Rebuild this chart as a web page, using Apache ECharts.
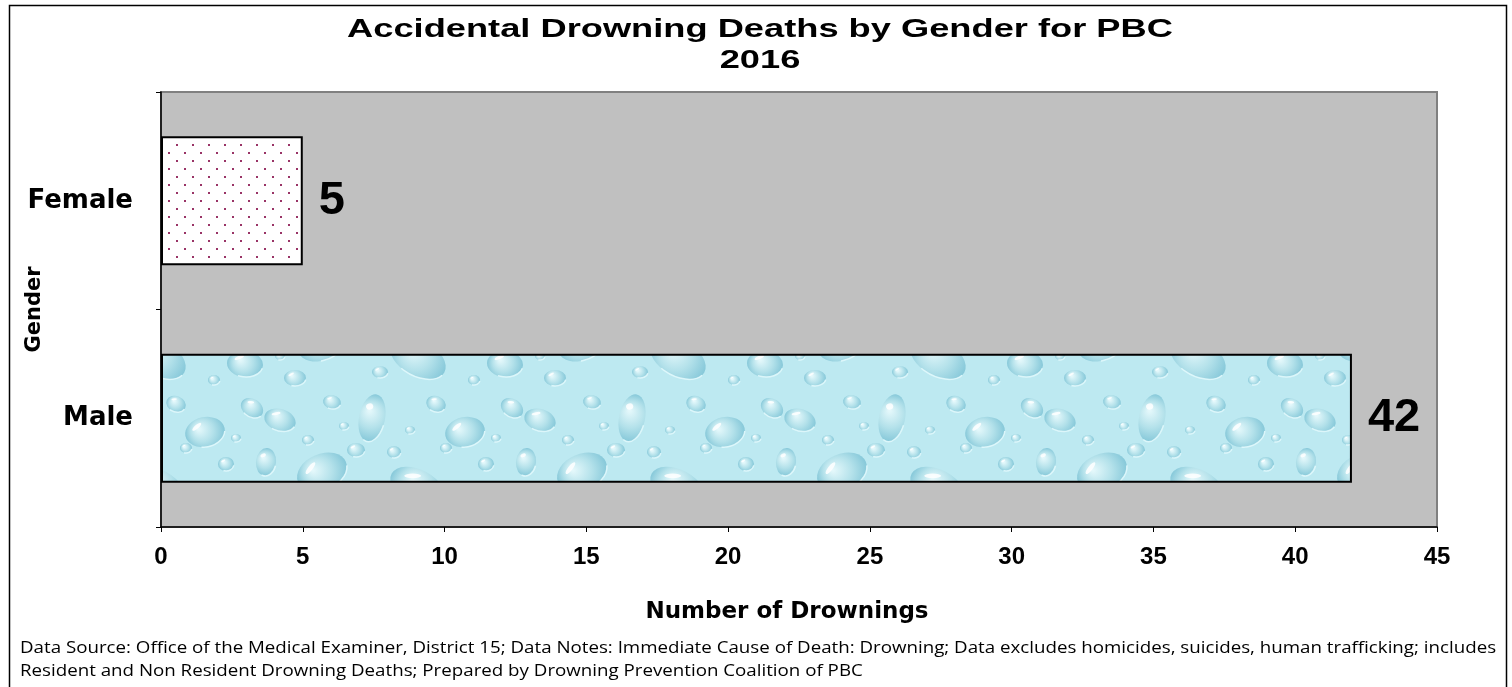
<!DOCTYPE html>
<html>
<head>
<meta charset="utf-8">
<script src="https://cdn.jsdelivr.net/npm/echarts@6/dist/echarts.min.js"></script>
<style>
html,body{margin:0;padding:0;background:#fff;}
#chart{width:1512px;height:687px;}
</style>
</head>
<body>
<div id="chart"></div>
<script>
// ---- data ----
const categories = ['Female', 'Male'];
const values = [5, 42];
const xTicks = {min: 0, max: 45, interval: 5};
const titleLines = ['Accidental Drowning Deaths by Gender for PBC', '2016'];
const footnoteLines = [
  'Data Source: Office of the Medical Examiner, District 15; Data Notes: Immediate Cause of Death: Drowning; Data excludes homicides, suicides, human trafficking; includes',
  'Resident and Non Resident Drowning Deaths; Prepared by Drowning Prevention Coalition of PBC'
];

// ---- patterns ----
function dotPattern() {
  const c = document.createElement('canvas');
  c.width = 16; c.height = 16;
  const g = c.getContext('2d');
  g.fillStyle = '#ffffff';
  g.fillRect(0, 0, 16, 16);
  g.fillStyle = '#993366';
  g.fillRect(0, 0, 2, 2);
  g.fillRect(8, 8, 2, 2);
  return c;
}
function waterPattern() {
  const w = 260, h = 130;
  const c = document.createElement('canvas');
  c.width = w; c.height = h;
  const g = c.getContext('2d');
  g.fillStyle = '#bde9f1';
  g.fillRect(0, 0, w, h);
  // fixed decorative drops [x, y, rx, ry, angle]
  const drops = [
    [20, 30, 16, 11, 0.3], [62, 82, 26, 18, -0.4], [112, 28, 13, 24, 0.2],
    [158, 98, 30, 18, 0.5], [205, 42, 20, 15, -0.2], [245, 104, 18, 13, 0.1],
    [35, 118, 11, 8, 0], [96, 60, 9, 7, 0], [176, 14, 10, 8, 0.4],
    [226, 74, 8, 7, 0], [134, 62, 7, 6, 0], [72, 12, 9, 7, 0.2],
    [252, 18, 12, 9, 0.6], [6, 72, 10, 14, 0.1], [186, 58, 6, 5, 0],
    [48, 50, 6, 5, 0], [120, 112, 8, 6, 0], [214, 120, 6, 5, 0],
    [84, 36, 5, 4, 0], [150, 40, 5, 4, 0], [236, 48, 5, 4, 0], [20, 96, 5, 4, 0]
  ];
  function drawDrop(x, y, d) {
    g.save();
    g.translate(x, y);
    g.rotate(d[4]);
    const r = Math.max(d[2], d[3]);
    const rg = g.createRadialGradient(-d[2] * 0.3, -d[3] * 0.3, 1, 0, 0, r);
    rg.addColorStop(0, '#e4f8fb');
    rg.addColorStop(0.55, '#b3e1ea');
    rg.addColorStop(1, '#86c8d9');
    g.fillStyle = rg;
    g.beginPath();
    g.ellipse(0, 0, d[2], d[3], 0, 0, Math.PI * 2);
    g.fill();
    g.strokeStyle = 'rgba(225,248,252,0.9)';
    g.lineWidth = 1.5;
    g.beginPath();
    g.ellipse(0, 0, d[2], d[3], 0, 0.2, 1.9);
    g.stroke();
    g.fillStyle = 'rgba(255,255,255,0.85)';
    g.beginPath();
    g.ellipse(-d[2] * 0.35, -d[3] * 0.45, d[2] * 0.28, d[3] * 0.13, -0.5, 0, Math.PI * 2);
    g.fill();
    g.restore();
  }
  drops.forEach(function (d) {
    for (let ox = -1; ox <= 1; ox++) {
      for (let oy = -1; oy <= 1; oy++) {
        drawDrop(d[0] + ox * w, d[1] + oy * h, d);
      }
    }
  });
  return c;
}

const patterns = [dotPattern(), waterPattern()];

const chart = echarts.init(document.getElementById('chart'));
const sansBold = '"DejaVu Sans", Arial, sans-serif';
const arial = 'Arial, "Liberation Sans", sans-serif';

chart.setOption({
  animation: false,
  backgroundColor: '#ffffff',
  grid: {
    left: 161, top: 92, width: 1276, height: 435,
    show: true, backgroundColor: '#C0C0C0', borderColor: '#808080', borderWidth: 2,
    containLabel: false,
    outerBoundsMode: 'none'
  },
  xAxis: {
    type: 'value',
    min: xTicks.min, max: xTicks.max, interval: xTicks.interval,
    name: 'Number of Drownings',
    nameLocation: 'middle',
    nameGap: 74,
    nameMoveOverlap: false,
    nameTextStyle: {fontFamily: sansBold, fontSize: 23, fontWeight: 'bold', color: '#000', padding: [0, 24, 0, 0]},
    axisLine: {show: true, lineStyle: {color: '#000', width: 1.5}},
    axisTick: {show: true, length: 5, lineStyle: {color: '#000'}},
    axisLabel: {fontFamily: arial, fontSize: 24, fontWeight: 'bold', color: '#000', margin: 18},
    splitLine: {show: false}
  },
  yAxis: {
    type: 'category',
    data: categories,
    inverse: true,
    name: 'Gender',
    nameLocation: 'middle',
    nameRotate: 90,
    nameGap: 116,
    nameMoveOverlap: false,
    nameTextStyle: {fontFamily: sansBold, fontSize: 21, fontWeight: 'bold', color: '#000'},
    axisLine: {show: true, lineStyle: {color: '#000', width: 1.5}},
    axisTick: {show: true, length: 5, lineStyle: {color: '#000'}},
    axisLabel: {fontFamily: sansBold, fontSize: 26, fontWeight: 'bold', color: '#000', margin: 28}
  },
  series: [{
    type: 'bar',
    barWidth: 129,
    data: values.map(function (v, i) {
      return {
        value: v,
        itemStyle: {color: {image: patterns[i], repeat: 'repeat'}}
      };
    }),
    itemStyle: {borderColor: '#000', borderWidth: 2},
    label: {
      show: true, position: 'right', distance: 16,
      fontFamily: arial, fontSize: 47, fontWeight: 'bold', color: '#000'
    }
  }],
  graphic: [
    {type: 'rect', left: 7, top: 3, shape: {width: 1497, height: 720},
      style: {fill: 'none', stroke: '#000', lineWidth: 1.5}, silent: true},
    {type: 'text', x: 760, y: 18,
      style: {text: titleLines[0], font: 'bold 25px ' + arial, fill: '#000', textAlign: 'center', textVerticalAlign: 'top'},
      scaleX: 1.45},
    {type: 'text', x: 760, y: 49,
      style: {text: titleLines[1], font: 'bold 25px ' + arial, fill: '#000', textAlign: 'center', textVerticalAlign: 'top'},
      scaleX: 1.45},
    {type: 'text', x: 20, y: 640, scaleX: 1.17,
      style: {text: footnoteLines[0], font: '16px "Open Sans", sans-serif', fill: '#000', textVerticalAlign: 'top'}},
    {type: 'text', x: 20, y: 663, scaleX: 1.17,
      style: {text: footnoteLines[1], font: '16px "Open Sans", sans-serif', fill: '#000', textVerticalAlign: 'top'}}
  ]
});
</script>
</body>
</html>
